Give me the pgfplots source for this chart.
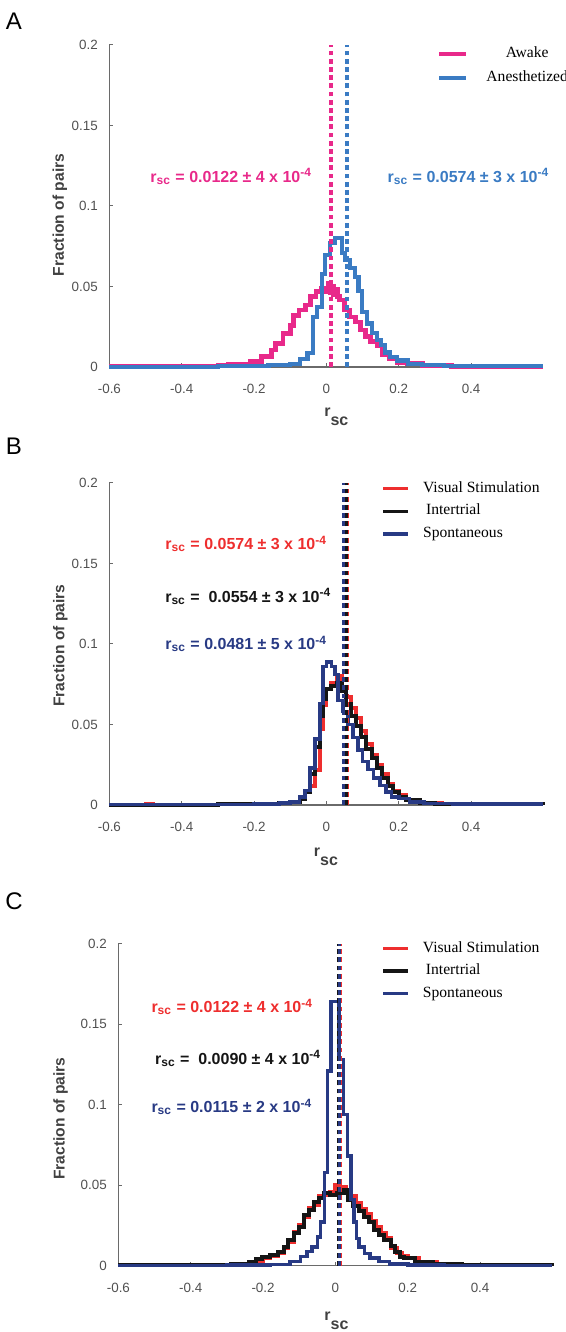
\documentclass[border=0pt]{standalone}
\usepackage{pgfplots}
\pgfplotsset{compat=1.18}
\usepackage{fontspec}
\setmainfont{Liberation Sans}
\newfontfamily\legfont{Liberation Serif}
\definecolor{pinkc}{HTML}{E8298A}
\definecolor{bluea}{HTML}{3A7BC3}
\definecolor{redc}{HTML}{EE2E2E}
\definecolor{navyc}{HTML}{283A84}
\definecolor{blk}{HTML}{151515}
\definecolor{tickgray}{HTML}{505050}
\definecolor{labgray}{HTML}{404040}
\definecolor{axgray}{HTML}{6A6A6A}
\tikzset{annot/.style={anchor=base west, font=\bfseries\fontsize{8}{9.6}\selectfont}}
\pgfplotsset{
  hist/.style={const plot, line width=2pt, forget plot},
  dline/.style={line width=1.7pt, dash pattern=on 2.4pt off 1.7pt, forget plot},
  myax/.style={
    scale only axis, width=217pt, height=161pt,
    xmin=-0.6, xmax=0.6, ymin=0, ymax=0.2,
    axis lines=left, axis line style={-, draw=axgray, line width=0.6pt},
    xtick={-0.6,-0.4,-0.2,0,0.2,0.4}, xticklabels={-0.6,-0.4,-0.2,0,0.2,0.4},
    ytick={0,0.05,0.1,0.15,0.2}, yticklabels={0,0.05,0.1,0.15,0.2},
    tick align=inside, major tick length=2pt, tick style={draw=axgray, line width=0.5pt},
    tick label style={font=\fontsize{6.7}{8}\selectfont, text=tickgray},
    xticklabel style={yshift=-5pt}, yticklabel style={xshift=-2.3pt},
    /pgf/number format/assume math mode=true,
    clip=false,
    ylabel={Fraction of pairs},
    ylabel style={font=\bfseries\fontsize{7.8}{9}\selectfont, text=labgray, anchor=center},
    xlabel={r\raisebox{-4.5pt}{sc}},
    xlabel style={font=\bfseries\fontsize{8}{9.6}\selectfont, text=labgray, anchor=center},
  },
}
\pgfplotstableread{
x y
-0.6 0.0002
-0.42 0.0006
-0.38 0.0003
-0.3 0.0007
-0.27 0.0018
-0.21 0.0033
-0.18 0.0064
-0.152 0.0106
-0.14 0.0147
-0.12 0.021
-0.1 0.026
-0.09 0.032
-0.076 0.0354
-0.057 0.0385
-0.043 0.0437
-0.029 0.0468
-0.015 0.049
0.0 0.047
0.005 0.052
0.010 0.046
0.015 0.050
0.020 0.045
0.025 0.048
0.030 0.0437
0.037 0.0416
0.049 0.0354
0.063 0.031
0.081 0.028
0.095 0.023
0.109 0.019
0.123 0.0157
0.141 0.013
0.155 0.008
0.175 0.005
0.195 0.003
0.225 0.002
0.265 0.001
0.345 0.0004
0.6 0.0004
}\awake
\pgfplotstableread{
x y
-0.6 0.0002
-0.3 0.0004
-0.16 0.001
-0.10 0.002
-0.074 0.005
-0.052 0.0085
-0.038 0.031
-0.027 0.0375
-0.013 0.058
-0.004 0.0696
0.01 0.077
0.024 0.080
0.043 0.071
0.052 0.0665
0.066 0.0615
0.08 0.056
0.089 0.047
0.098 0.034
0.112 0.027
0.126 0.021
0.14 0.017
0.15 0.0135
0.162 0.009
0.175 0.006
0.195 0.004
0.225 0.002
0.265 0.001
0.325 0.0004
0.6 0.0004
}\anest
\pgfplotstableread{
x y
-0.6 0.0003
-0.5 0.0008
-0.48 0.0003
-0.3 0.0006
-0.2 0.0008
-0.13 0.0012
-0.10 0.002
-0.074 0.004
-0.06 0.008
-0.046 0.012
-0.032 0.022
-0.018 0.047
-0.009 0.062
0.0 0.072
0.014 0.076
0.028 0.080
0.042 0.073
0.055 0.067
0.069 0.060
0.083 0.054
0.097 0.046
0.11 0.038
0.125 0.031
0.14 0.025
0.155 0.019
0.17 0.013
0.185 0.009
0.2 0.006
0.22 0.003
0.26 0.0015
0.32 0.0007
0.6 0.0007
}\bred
\pgfplotstableread{
x y
-0.6 0.0002
-0.3 0.0004
-0.2 0.0007
-0.13 0.001
-0.10 0.002
-0.074 0.004
-0.06 0.008
-0.046 0.019
-0.032 0.036
-0.018 0.055
-0.009 0.066
0.0 0.072
0.014 0.074
0.028 0.076
0.042 0.071
0.055 0.063
0.069 0.055
0.083 0.049
0.097 0.042
0.11 0.035
0.125 0.029
0.14 0.023
0.155 0.017
0.17 0.012
0.185 0.008
0.2 0.005
0.22 0.003
0.26 0.0015
0.3 0.0008
0.6 0.0004
}\bblk
\pgfplotstableread{
x y
-0.6 0.0002
-0.3 0.0004
-0.2 0.0008
-0.13 0.0012
-0.10 0.002
-0.074 0.005
-0.06 0.009
-0.046 0.023
-0.032 0.041
-0.018 0.063
-0.009 0.086
0.0 0.089
0.014 0.086
0.023 0.081
0.032 0.065
0.046 0.058
0.06 0.050
0.074 0.042
0.088 0.034
0.1 0.027
0.115 0.022
0.13 0.0166
0.148 0.012
0.165 0.008
0.18 0.005
0.2 0.004
0.23 0.002
0.27 0.001
0.35 0.0005
0.6 0.0005
}\bnavy
\pgfplotstableread{
x y
-0.6 0.0002
-0.38 0.0005
-0.29 0.001
-0.22 0.003
-0.2 0.0045
-0.18 0.006
-0.16 0.008
-0.143 0.011
-0.13 0.015
-0.114 0.021
-0.102 0.025
-0.088 0.030
-0.074 0.036
-0.06 0.038
-0.046 0.043
-0.032 0.044
-0.014 0.046
0.0 0.050
0.014 0.049
0.028 0.046
0.042 0.043
0.056 0.039
0.07 0.035
0.084 0.032
0.098 0.028
0.112 0.024
0.126 0.020
0.14 0.017
0.155 0.011
0.17 0.008
0.185 0.006
0.2 0.0045
0.23 0.0025
0.28 0.0012
0.35 0.0005
0.6 0.0003
}\cred
\pgfplotstableread{
x y
-0.6 0.0002
-0.38 0.0005
-0.29 0.0012
-0.24 0.002
-0.22 0.004
-0.203 0.0053
-0.18 0.0066
-0.16 0.0087
-0.143 0.0118
-0.13 0.016
-0.114 0.020
-0.102 0.024
-0.088 0.0315
-0.074 0.0346
-0.06 0.0398
-0.046 0.042
-0.032 0.045
-0.014 0.044
0.004 0.045
0.023 0.047
0.036 0.041
0.05 0.037
0.064 0.034
0.078 0.030
0.092 0.027
0.106 0.022
0.12 0.019
0.134 0.016
0.153 0.012
0.165 0.0087
0.178 0.0056
0.19 0.0046
0.22 0.0025
0.27 0.001
0.35 0.0004
0.6 0.0003
}\cblk
\pgfplotstableread{
x y
-0.6 0.0002
-0.3 0.0004
-0.18 0.0007
-0.125 0.0025
-0.097 0.0056
-0.078 0.0087
-0.064 0.0118
-0.05 0.018
-0.041 0.027
-0.03 0.058
-0.022 0.121
-0.012 0.164
0.010 0.128
0.022 0.094
0.033 0.068
0.043 0.041
0.052 0.027
0.058 0.017
0.066 0.0118
0.08 0.0077
0.095 0.0047
0.12 0.0025
0.15 0.0012
0.2 0.0005
0.3 0.0002
0.6 0.0002
}\cnavy
\begin{document}
\begin{tikzpicture}
\useasboundingbox (0pt,0pt) rectangle (283pt,666pt);
\node[font=\fontsize{12}{14}\selectfont] at (7pt,655.25pt) {A};
\node[font=\fontsize{12}{14}\selectfont] at (7pt,443pt) {B};
\node[font=\fontsize{12}{14}\selectfont] at (7pt,215.25pt) {C};
% ---------------- A
\begin{axis}[myax, at={(54.7pt,482.5pt)}, anchor=south west,
  ylabel style={at={(axis description cs:-0.114,0.472)}},
  xlabel style={at={(axis description cs:0.523,-0.155)}},
  legend image code/.code={\draw[#1] (0pt,0pt) -- (13.5pt,0pt); \path (22.5pt,0pt);},
  legend cell align=center,
  legend style={at={(axis description cs:0.755,0.996)}, anchor=north west, draw=none, fill=none,
    inner sep=0pt, row sep=4.2pt, font=\legfont\fontsize{7.8}{9}\selectfont,
    nodes={inner sep=0pt, text height=5.5pt, text depth=2pt}}]
\addplot[hist, pinkc, line width=2.4pt] table {\awake};
\addplot[hist, bluea, line width=2.1pt] table {\anest};
\addplot[dline, pinkc] coordinates {(0.0122,0) (0.0122,0.2)};
\addplot[dline, bluea] coordinates {(0.0574,0) (0.0574,0.2)};
\addlegendimage{pinkc, line width=2pt}
\addlegendentry{Awake}
\addlegendimage{bluea, line width=2pt}
\addlegendentry{Anesthetized}
\node[annot, text=pinkc] at (axis cs:-0.506,0.1145) {r\textsubscript{sc} = 0.0122 ± 4 x 10\textsuperscript{-4}};
\node[annot, text=bluea] at (axis cs:0.150,0.1145) {r\textsubscript{sc} = 0.0574 ± 3 x 10\textsuperscript{-4}};
\end{axis}
% ---------------- B
\begin{axis}[myax, at={(54.7pt,263.5pt)}, anchor=south west,
  ylabel style={at={(axis description cs:-0.113,0.495)}},
  xlabel style={at={(axis description cs:0.499,-0.161)}},
  legend image code/.code={\draw[#1] (0pt,0pt) -- (12.5pt,0pt); \path (19pt,0pt);},
  legend cell align=left,
  legend style={at={(axis description cs:0.626,1.007)}, anchor=north west, draw=none, fill=none,
    inner sep=0pt, row sep=3.85pt, font=\legfont\fontsize{7.8}{9}\selectfont,
    nodes={inner sep=0pt, text height=5.5pt, text depth=2pt}}]
\addplot[hist, redc] table {\bred};
\addplot[hist, blk] table {\bblk};
\addplot[hist, navyc, line width=1.8pt] table {\bnavy};
\addplot[dline, redc] coordinates {(0.0574,0) (0.0574,0.2)};
\addplot[dline, blk] coordinates {(0.0554,0) (0.0554,0.2)};
\addplot[dline, navyc] coordinates {(0.0481,0) (0.0481,0.2)};
\addlegendimage{redc, line width=1.8pt}
\addlegendentry{Visual Stimulation}
\addlegendimage{blk, line width=1.8pt}
\addlegendentry{\hspace{1.5pt}Intertrial}
\addlegendimage{navyc, line width=1.8pt}
\addlegendentry{Spontaneous}
\node[annot, text=redc] at (axis cs:-0.4645,0.1584) {r\textsubscript{sc} = 0.0574 ± 3 x 10\textsuperscript{-4}};
\node[annot, text=blk] at (axis cs:-0.465,0.1259) {r\textsubscript{sc} =\ \ 0.0554 ± 3 x 10\textsuperscript{-4}};
\node[annot, text=navyc] at (axis cs:-0.4645,0.0963) {r\textsubscript{sc} = 0.0481 ± 5 x 10\textsuperscript{-4}};
\end{axis}
% ---------------- C
\begin{axis}[myax, at={(59.2pt,33.15pt)}, anchor=south west,
  ylabel style={at={(axis description cs:-0.133,0.457)}},
  xlabel style={at={(axis description cs:0.5025,-0.172)}},
  legend image code/.code={\draw[#1] (0pt,0pt) -- (12.5pt,0pt); \path (19pt,0pt);},
  legend cell align=left,
  legend style={at={(axis description cs:0.605,1.009)}, anchor=north west, draw=none, fill=none,
    inner sep=0pt, row sep=3.75pt, font=\legfont\fontsize{7.8}{9}\selectfont,
    nodes={inner sep=0pt, text height=5.5pt, text depth=2pt}}]
\addplot[hist, redc] table {\cred};
\addplot[hist, blk] table {\cblk};
\addplot[hist, navyc, line width=1.8pt] table {\cnavy};
\addplot[dline, redc] coordinates {(0.0122,0) (0.0122,0.2)};
\addplot[dline, blk] coordinates {(0.0090,0) (0.0090,0.2)};
\addplot[dline, navyc] coordinates {(0.0115,0) (0.0115,0.2)};
\addlegendimage{redc, line width=1.8pt}
\addlegendentry{Visual Stimulation}
\addlegendimage{blk, line width=1.8pt}
\addlegendentry{\hspace{1.5pt}Intertrial}
\addlegendimage{navyc, line width=1.8pt}
\addlegendentry{Spontaneous}
\node[annot, text=redc] at (axis cs:-0.528,0.1571) {r\textsubscript{sc} = 0.0122 ± 4 x 10\textsuperscript{-4}};
\node[annot, text=blk] at (axis cs:-0.518,0.1251) {r\textsubscript{sc} =\ \ 0.0090 ± 4 x 10\textsuperscript{-4}};
\node[annot, text=navyc] at (axis cs:-0.528,0.0950) {r\textsubscript{sc} = 0.0115 ± 2 x 10\textsuperscript{-4}};
\end{axis}
\end{tikzpicture}
\end{document}
